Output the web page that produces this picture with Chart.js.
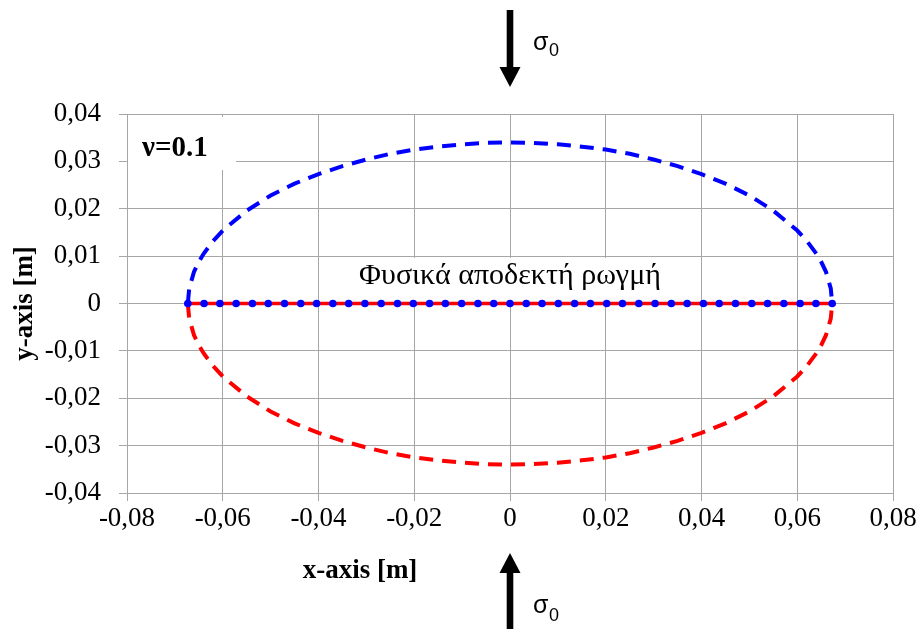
<!DOCTYPE html>
<html>
<head>
<meta charset="utf-8">
<script src="https://cdn.jsdelivr.net/npm/chart.js@4.4.0/dist/chart.umd.min.js"></script>
<style>
  html, body { margin: 0; padding: 0; background: #fff; }
</style>
</head>
<body>
<canvas id="crackChart" width="920" height="629"></canvas>
<script>
// Tick labels (comma decimals)
const xTickLabels = ['-0,08', '-0,06', '-0,04', '-0,02', '0', '0,02', '0,04', '0,06', '0,08'];
const yTickLabels = ['-0,04', '-0,03', '-0,02', '-0,01', '0', '0,01', '0,02', '0,03', '0,04'];

// Crack faces: x positions [m] and opening of the upper / lower face [m]
const faceX = [-0.0673, -0.067, -0.066, -0.065, -0.064, -0.062, -0.06, -0.055, -0.05, -0.045, -0.04,
  -0.035, -0.03, -0.025, -0.02, -0.015, -0.01, -0.005, 0, 0.005, 0.01, 0.015, 0.02, 0.025, 0.03,
  0.035, 0.04, 0.045, 0.05, 0.055, 0.06, 0.062, 0.064, 0.065, 0.066, 0.067, 0.0673];
const upperY = [0, 0.0032, 0.0067, 0.0088, 0.0105, 0.0132, 0.0154, 0.0196, 0.0228, 0.0253, 0.0273,
  0.0290, 0.0304, 0.0316, 0.0325, 0.0331, 0.0336, 0.0339, 0.034, 0.0339, 0.0336, 0.0331, 0.0325, 0.0316, 0.0304,
  0.0290, 0.0273, 0.0253, 0.0228, 0.0196, 0.0154, 0.0132, 0.0105, 0.0088, 0.0067, 0.0032, 0];
const lowerY = [0, -0.0032, -0.0067, -0.0088, -0.0105, -0.0132, -0.0154, -0.0196, -0.0228, -0.0253, -0.0273,
  -0.0290, -0.0304, -0.0316, -0.0325, -0.0331, -0.0336, -0.0339, -0.034, -0.0339, -0.0336, -0.0331, -0.0325, -0.0316, -0.0304,
  -0.0290, -0.0273, -0.0253, -0.0228, -0.0196, -0.0154, -0.0132, -0.0105, -0.0088, -0.0067, -0.0032, 0];

// Physically admissible (closed) crack: nodes along y = 0
const crackNodesX = [-0.0673, -0.0639, -0.0606, -0.0572, -0.0538, -0.0505, -0.0471, -0.0437, -0.0404, -0.0370,
  -0.0337, -0.0303, -0.0269, -0.0235, -0.0202, -0.0168, -0.0135, -0.0101, -0.0067, -0.0034, 0,
  0.0034, 0.0067, 0.0101, 0.0135, 0.0168, 0.0202, 0.0235, 0.0269, 0.0303, 0.0337,
  0.0370, 0.0404, 0.0437, 0.0471, 0.0505, 0.0538, 0.0572, 0.0606, 0.0639, 0.0673];
const crackLineX = [-0.0673, 0.0673];

const pts = (xs, ys) => xs.map((x, i) => ({ x: x, y: ys ? ys[i] : 0 }));

const serif = '"Liberation Serif", "DejaVu Serif", serif';
const gridGray = '#a6a6a6';

// Labels, white boxes and the load arrows
const decorations = {
  id: 'decorations',
  beforeDatasetsDraw(chart) {
    const { ctx } = chart;
    const xs = chart.scales.x;
    ctx.save();
    ctx.fillStyle = '#fff';
    ctx.fillRect(128, 117, 108, 53);
    ctx.fillRect(343, 258, 332, 43);
    ctx.fillStyle = '#000';
    ctx.textBaseline = 'alphabetic';
    ctx.font = 'bold 29px ' + serif;
    ctx.fillText('ν=0.1', 142, 156);
    ctx.font = '30px ' + serif;
    ctx.textAlign = 'center';
    ctx.fillText('Φυσικά αποδεκτή ρωγμή', xs.getPixelForValue(0), 284);
    ctx.restore();
  },
  afterDraw(chart) {
    const { ctx } = chart;
    const cx = chart.scales.x.getPixelForValue(0);
    ctx.save();
    ctx.fillStyle = '#000';
    // x axis title
    ctx.font = 'bold 27px ' + serif;
    ctx.textAlign = 'center';
    ctx.textBaseline = 'alphabetic';
    ctx.fillText('x-axis [m]', 360, 578);

    // top arrow (pointing down)
    ctx.fillRect(cx - 3.3, 10, 6.6, 58);
    ctx.beginPath();
    ctx.moveTo(cx - 10.5, 67);
    ctx.lineTo(cx + 10.5, 67);
    ctx.lineTo(cx, 87);
    ctx.closePath();
    ctx.fill();

    // bottom arrow (pointing up)
    ctx.fillRect(cx - 3.3, 572, 6.6, 60);
    ctx.beginPath();
    ctx.moveTo(cx, 553);
    ctx.lineTo(cx + 10.5, 573);
    ctx.lineTo(cx - 10.5, 573);
    ctx.closePath();
    ctx.fill();

    // sigma_0 labels
    ctx.textAlign = 'left';
    ctx.font = '25px "Liberation Sans", Arial, sans-serif';
    ctx.fillText('σ', 533, 50);
    ctx.fillText('σ', 533, 613);
    ctx.font = '18px "Liberation Sans", Arial, sans-serif';
    ctx.fillText('0', 549, 56);
    ctx.fillText('0', 549, 621);
    ctx.restore();
  }
};

const ctx = document.getElementById('crackChart').getContext('2d');
new Chart(ctx, {
  type: 'scatter',
  data: {
    datasets: [
      {
        label: 'crack nodes',
        data: pts(crackNodesX),
        showLine: false,
        pointRadius: 3.8,
        pointBackgroundColor: '#0000ff',
        pointBorderWidth: 0,
        order: 0
      },
      {
        label: 'closed crack',
        data: pts(crackLineX),
        showLine: true,
        borderColor: '#ff0000',
        borderWidth: 3.5,
        pointRadius: 0,
        order: 1
      },
      {
        label: 'upper face',
        data: pts(faceX, upperY),
        showLine: true,
        borderColor: '#0000ff',
        borderWidth: 4,
        borderDash: [14, 9],
        pointRadius: 0,
        order: 2
      },
      {
        label: 'lower face',
        data: pts(faceX, lowerY),
        showLine: true,
        borderColor: '#ff0000',
        borderWidth: 4,
        borderDash: [14, 9],
        pointRadius: 0,
        order: 3
      }
    ]
  },
  options: {
    responsive: false,
    animation: false,
    layout: { padding: { top: 114, right: 27, left: 0, bottom: 0 } },
    plugins: {
      legend: { display: false },
      tooltip: { enabled: false }
    },
    scales: {
      x: {
        type: 'linear',
        min: -0.08,
        max: 0.08,
        afterFit: (scale) => { scale.height = 136; },
        grid: { color: gridGray, tickLength: 8, lineWidth: 1 },
        border: { color: gridGray },
        ticks: {
          stepSize: 0.02,
          padding: 2,
          color: '#000',
          font: { family: serif, size: 27 },
          maxRotation: 0,
          callback: (v, i) => xTickLabels[i]
        }
      },
      y: {
        type: 'linear',
        min: -0.04,
        max: 0.04,
        afterFit: (scale) => { scale.width = 127; },
        grid: { color: gridGray, tickLength: 8, lineWidth: 1 },
        border: { color: gridGray },
        title: {
          display: true,
          text: 'y-axis [m]',
          color: '#000',
          padding: { top: 9, bottom: 0 },
          font: { family: serif, size: 27, weight: 'bold' }
        },
        ticks: {
          stepSize: 0.01,
          padding: 18,
          color: '#000',
          font: { family: serif, size: 27 },
          callback: (v, i) => yTickLabels[i]
        }
      }
    }
  },
  plugins: [decorations]
});
</script>
</body>
</html>
